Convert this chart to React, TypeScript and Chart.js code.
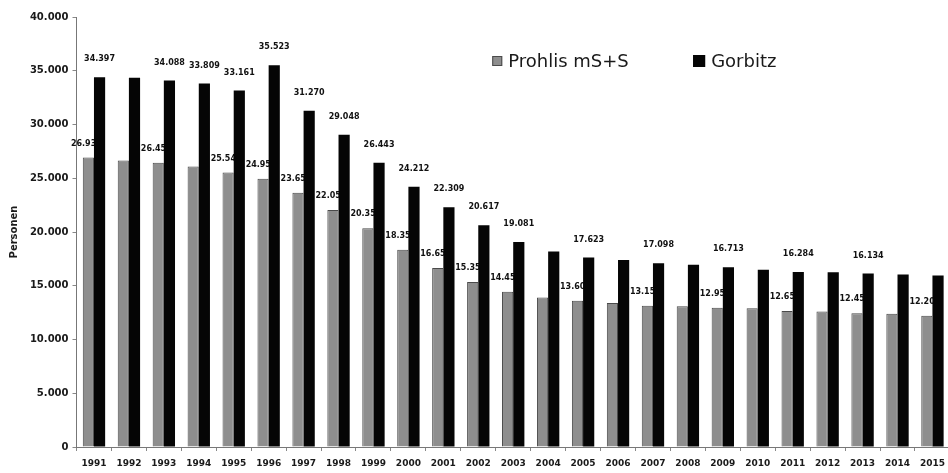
import { useEffect, useRef } from "react";
import { Chart, registerables } from "chart.js";

Chart.register(...registerables);

const years = [
  "1991", "1992", "1993", "1994", "1995", "1996", "1997", "1998", "1999", "2000",
  "2001", "2002", "2003", "2004", "2005", "2006", "2007", "2008", "2009", "2010",
  "2011", "2012", "2013", "2014", "2015",
];

const prohlis = [
  26934, 26650, 26450, 26100, 25540, 24950, 23650, 22050, 20350, 18350,
  16650, 15350, 14450, 13900, 13600, 13400, 13150, 13100, 12950, 12900,
  12650, 12600, 12450, 12400, 12207,
];

const gorbitz = [
  34397, 34350, 34088, 33809, 33161, 35523, 31270, 29048, 26443, 24212,
  22309, 20617, 19081, 18180, 17623, 17400, 17098, 16950, 16713, 16500,
  16284, 16250, 16134, 16050, 15950,
];

const prohlisLabelYears = [
  "1991", "1993", "1995", "1996", "1997", "1998", "1999", "2000", "2001",
  "2002", "2003", "2005", "2007", "2009", "2011", "2013", "2015",
];

const gorbitzLabelYears = [
  "1991", "1993", "1994", "1995", "1996", "1997", "1998", "1999", "2000",
  "2001", "2002", "2003", "2005", "2007", "2009", "2011", "2013",
];

const seriesNames = ["Prohlis mS+S", "Gorbitz"];
const yMax = 40000;
const yStep = 5000;

const FONT = "'DejaVu Sans', 'Liberation Sans', sans-serif";
const GREY = "#8e8e8e";
const GREY_EDGE = "#4a4a4a";
const BLACK = "#050505";

// German thousands separator: 34397 -> "34.397"
const fmt = (v: number) => String(Math.round(v)).replace(/\B(?=(\d{3})+(?!\d))/g, ".");

const valueLabels = {
  id: "valueLabels",
  // Prohlis labels go underneath the bars so the black columns overlap them
  beforeDatasetsDraw(chart: any) {
    const ctx = chart.ctx;
    const meta = chart.getDatasetMeta(0);
    ctx.save();
    ctx.font = `bold 8px ${FONT}`;
    ctx.fillStyle = "#111";
    ctx.textAlign = "center";
    ctx.textBaseline = "middle";
    years.forEach((y, i) => {
      if (!prohlisLabelYears.includes(y)) return;
      const el = meta.data[i];
      ctx.fillText(fmt(prohlis[i]), el.x - 2, el.y - 14);
    });
    ctx.restore();
  },
  afterDatasetsDraw(chart: any) {
    const ctx = chart.ctx;
    const meta = chart.getDatasetMeta(1);
    ctx.save();
    ctx.font = `bold 8px ${FONT}`;
    ctx.fillStyle = "#111";
    ctx.textAlign = "center";
    ctx.textBaseline = "middle";
    years.forEach((y, i) => {
      if (!gorbitzLabelYears.includes(y)) return;
      const el = meta.data[i];
      ctx.fillText(fmt(gorbitz[i]), el.x, el.y - 18);
    });

    // legend inside the plot, upper right
    const { left, width } = chart.chartArea;
    const items = [
      { name: seriesNames[0], fill: GREY, edge: GREY_EDGE, size: 10 },
      { name: seriesNames[1], fill: BLACK, edge: BLACK, size: 12 },
    ];
    const starts = [left + width * 0.476, left + width * 0.706];
    ctx.font = `18px ${FONT}`;
    ctx.textAlign = "left";
    ctx.textBaseline = "middle";
    items.forEach((it, k) => {
      const x = starts[k];
      const cy = 61;
      ctx.fillStyle = it.fill;
      ctx.fillRect(x, cy - it.size / 2, it.size, it.size);
      ctx.strokeStyle = it.edge;
      ctx.lineWidth = 1;
      ctx.strokeRect(x + 0.5, cy - it.size / 2 + 0.5, it.size - 1, it.size - 1);
      ctx.fillStyle = "#1a1a1a";
      ctx.fillText(it.name, x + it.size + 6, cy + 1);
    });
    ctx.restore();
  },
};

export default function App() {
  const ref = useRef<HTMLCanvasElement | null>(null);

  useEffect(() => {
    if (!ref.current) return;
    Chart.defaults.font.family = FONT;
    const chart = new Chart(ref.current, {
      type: "bar",
      data: {
        labels: years,
        datasets: [
          {
            label: seriesNames[0],
            data: prohlis,
            backgroundColor: GREY,
            borderColor: GREY_EDGE,
            borderWidth: 1,
            categoryPercentage: 0.64,
            barPercentage: 1.0,
          },
          {
            label: seriesNames[1],
            data: gorbitz,
            backgroundColor: BLACK,
            borderColor: BLACK,
            borderWidth: 0,
            categoryPercentage: 0.64,
            barPercentage: 1.0,
          },
        ],
      },
      options: {
        animation: false,
        responsive: true,
        maintainAspectRatio: false,
        layout: { padding: { top: 17, right: 1.5, left: 0, bottom: 0 } },
        plugins: {
          legend: { display: false },
          tooltip: { enabled: false },
        },
        scales: {
          x: {
            grid: {
              display: true,
              drawOnChartArea: false,
              drawTicks: true,
              tickLength: 4,
              color: "#888",
              offset: true,
            },
            border: { display: true, color: "#777", width: 1 },
            ticks: {
              color: "#1a1a1a",
              font: { size: 9, weight: "bold" },
              padding: 7,
              maxRotation: 0,
              autoSkip: false,
            },
            afterFit: (s: any) => {
              s.height = 26;
            },
          },
          y: {
            min: 0,
            max: yMax,
            grid: {
              display: true,
              drawOnChartArea: false,
              drawTicks: true,
              tickLength: 4,
              color: "#888",
            },
            border: { display: true, color: "#777", width: 1 },
            ticks: {
              stepSize: yStep,
              color: "#1a1a1a",
              font: { size: 10, weight: "bold" },
              padding: 4,
              callback: (v: any) => fmt(Number(v)),
            },
            title: {
              display: true,
              text: "Personen",
              color: "#1a1a1a",
              font: { size: 10, weight: "bold" },
              padding: { top: 8, bottom: 0 },
            },
            afterFit: (s: any) => {
              s.width = 76.5;
            },
          },
        },
      },
      plugins: [valueLabels],
    });
    return () => chart.destroy();
  }, []);

  return (
    <div
      style={{
        position: "fixed",
        left: 0,
        top: 0,
        width: 952,
        height: 473,
        background: "#fff",
      }}
    >
      <canvas ref={ref} />
    </div>
  );
}
